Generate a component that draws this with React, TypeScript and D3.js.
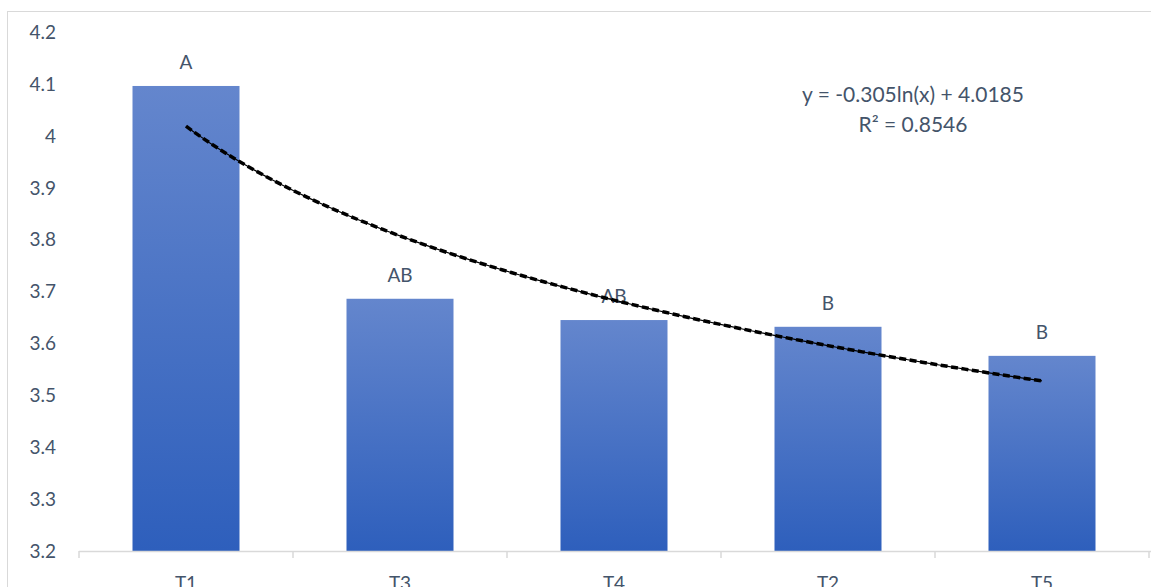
import React from "react";
import * as d3 from "d3";

const categories = ["T1", "T3", "T4", "T2", "T5"];
const values = [4.096, 3.686, 3.645, 3.632, 3.576];
const letters = ["A", "AB", "AB", "B", "B"];
const yTicks = [3.2, 3.3, 3.4, 3.5, 3.6, 3.7, 3.8, 3.9, 4.0, 4.1, 4.2];
const trendA = -0.305;
const trendB = 4.0185;
const equationLines = ["y = -0.305ln(x) + 4.0185", "R² = 0.8546"];

const W = 1151;
const H = 587;
const left = 79;
const right = 1149;
const top = 32;
const bottom = 551;
const textColor = "#44546A";
const font = "Lato, 'Open Sans', sans-serif";

export default function App() {
  const x = d3.scaleBand<string>().domain(categories).range([left, right]).paddingInner(0.5).paddingOuter(0.25);
  const y = d3.scaleLinear().domain([3.2, 4.2]).range([bottom, top]);
  const step = (right - left) / categories.length;

  const trendPts: [number, number][] = [];
  const x0 = x(categories[0])! + x.bandwidth() / 2;
  const x1 = x(categories[categories.length - 1])! + x.bandwidth() / 2;
  const xi = d3.scaleLinear().domain([1, categories.length]).range([x0, x1]);
  for (let i = 0; i <= 100; i++) {
    const t = 1 + (i / 100) * (categories.length - 1);
    trendPts.push([xi(t), y(trendA * Math.log(t) + trendB)]);
  }
  const line = d3.line().curve(d3.curveLinear)(trendPts) || "";

  return (
    <svg width={W} height={H} style={{ position: "absolute", left: 0, top: 0, background: "#fff" }} fontFamily={font}>
      <defs>
        <linearGradient id="barGrad" x1="0" y1="0" x2="0" y2="1">
          <stop offset="0" stopColor="#6486CD" />
          <stop offset="1" stopColor="#2E5FBC" />
        </linearGradient>
      </defs>
      <rect x={7.5} y={11.5} width={W + 10} height={H + 10} fill="#fff" stroke="#D9D9D9" strokeWidth={1} />
      {yTicks.map((t) => (
        <text key={t} x={56} y={y(t)} dy="0.36em" textAnchor="end" fontSize={19} fill={textColor}>
          {d3.format("")(+t.toFixed(1))}
        </text>
      ))}
      {categories.map((c, i) => (
        <g key={c}>
          <rect x={x(c)!} y={y(values[i])} width={x.bandwidth()} height={bottom - y(values[i])} fill="url(#barGrad)" />
          <text x={x(c)! + x.bandwidth() / 2} y={y(values[i]) - 17} textAnchor="middle" fontSize={19} fill={textColor}>
            {letters[i]}
          </text>
          <text x={x(c)! + x.bandwidth() / 2} y={590} textAnchor="middle" fontSize={19} fill={textColor}>
            {c}
          </text>
        </g>
      ))}
      <line x1={left} x2={W} y1={bottom + 0.5} y2={bottom + 0.5} stroke="#D9D9D9" strokeWidth={1.5} />
      {d3.range(categories.length + 1).map((i) => (
        <line key={i} x1={left + i * step} x2={left + i * step} y1={bottom} y2={bottom + 7} stroke="#D9D9D9" strokeWidth={1.5} />
      ))}
      <path d={line} fill="none" stroke="#000" strokeWidth={1.2} />
      <path d={line} fill="none" stroke="#000" strokeWidth={3.5} strokeDasharray="7,3.5" strokeLinecap="butt" />
      {equationLines.map((l, i) => (
        <text key={i} x={913} y={102 + i * 30} textAnchor="middle" fontSize={21} fill={textColor}>
          {l}
        </text>
      ))}
    </svg>
  );
}
